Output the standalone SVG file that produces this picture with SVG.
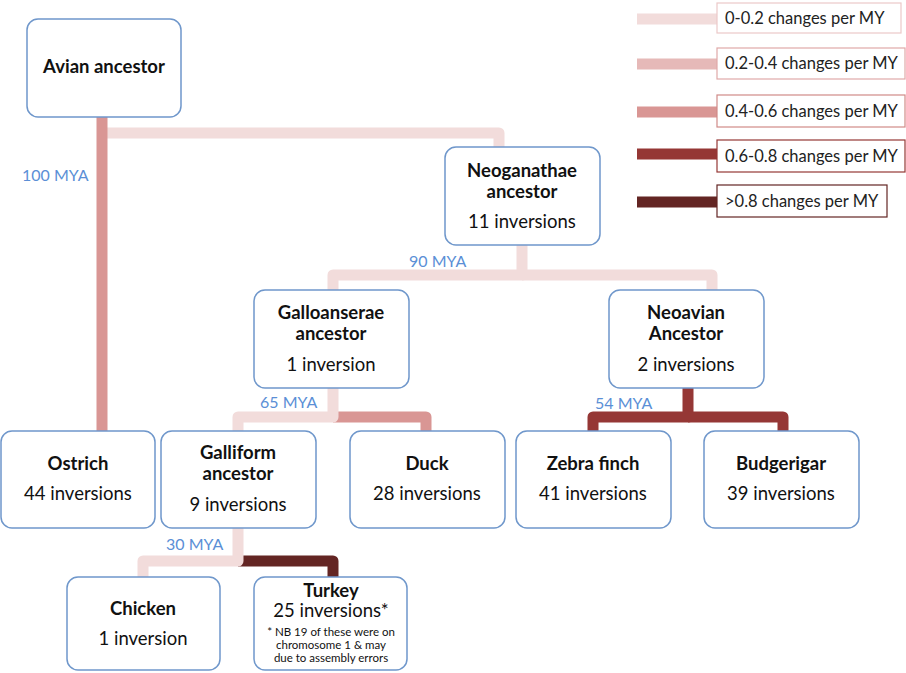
<svg xmlns="http://www.w3.org/2000/svg" width="906" height="673" viewBox="0 0 906 673">
<style>
.box{fill:#fff;stroke:#6f97cb;stroke-width:1.5}
.t{font-family:Lato,"Liberation Sans",sans-serif;font-size:18.5px;fill:#111;text-anchor:middle}
.b{font-weight:bold}
.s{font-size:11.5px}
.mya{font-family:Lato,"Liberation Sans",sans-serif;font-size:16px;fill:#5b8fd6}
.lg{font-family:Lato,"Liberation Sans",sans-serif;font-size:16.5px;fill:#222}
.c{fill:none;stroke-width:11;stroke-linejoin:round;stroke-linecap:butt}
.r1{stroke:#f2dcdb}.r2{stroke:#e6b9b8}.r3{stroke:#d99694}.r4{stroke:#953735}.r5{stroke:#632523}
</style>
<rect width="906" height="673" fill="#fff"/>
<g id="connectors">
<path class="c r1" d="M102,133 H499 V147"/>
<path class="c r3" d="M102,117 V431"/>
<path class="c r1" d="M522,245 V275 H333 V290"/>
<path class="c r1" d="M522,275 H712 V290"/>
<path class="c r3" d="M333,417 H426 V431"/>
<path class="c r1" d="M333,388 V417 H238 V431"/>
<path class="c r4" d="M688,388 V417 H593 V431"/>
<path class="c r4" d="M688,417 H783 V431"/>
<path class="c r5" d="M238,561 H333 V577"/>
<path class="c r1" d="M238,528 V561 H143 V577"/>
</g>
<g id="labels">
<text class="mya" x="22" y="181">100 MYA</text>
<text class="mya" x="409" y="267">90 MYA</text>
<text class="mya" x="260" y="408">65 MYA</text>
<text class="mya" x="595" y="409">54 MYA</text>
<text class="mya" x="166" y="550">30 MYA</text>
</g>
<g id="avian">
<rect class="box" x="27" y="19" width="154" height="98" rx="11"/>
<text class="t b" x="104" y="73">Avian ancestor</text>
</g>
<g id="neoganathae">
<rect class="box" x="445" y="147" width="155" height="98" rx="11"/>
<text class="t b" x="522" y="177">Neoganathae</text>
<text class="t b" x="522" y="198">ancestor</text>
<text class="t" x="522" y="228">11 inversions</text>
</g>
<g id="galloanserae">
<rect class="box" x="254" y="290" width="155" height="98" rx="11"/>
<text class="t b" x="331" y="319">Galloanserae</text>
<text class="t b" x="331" y="340">ancestor</text>
<text class="t" x="331" y="371">1 inversion</text>
</g>
<g id="neoavian">
<rect class="box" x="609" y="290" width="155" height="98" rx="11"/>
<text class="t b" x="686" y="319">Neoavian</text>
<text class="t b" x="686" y="340">Ancestor</text>
<text class="t" x="686" y="371">2 inversions</text>
</g>
<g id="ostrich">
<rect class="box" x="1" y="431" width="154" height="97" rx="11"/>
<text class="t b" x="78" y="470">Ostrich</text>
<text class="t" x="78" y="500">44 inversions</text>
</g>
<g id="galliform">
<rect class="box" x="161" y="431" width="155" height="97" rx="11"/>
<text class="t b" x="238" y="459">Galliform</text>
<text class="t b" x="238" y="480">ancestor</text>
<text class="t" x="238" y="511">9 inversions</text>
</g>
<g id="duck">
<rect class="box" x="350" y="431" width="155" height="97" rx="11"/>
<text class="t b" x="427" y="470">Duck</text>
<text class="t" x="427" y="500">28 inversions</text>
</g>
<g id="zebrafinch">
<rect class="box" x="516" y="431" width="155" height="97" rx="11"/>
<text class="t b" x="593" y="470">Zebra finch</text>
<text class="t" x="593" y="500">41 inversions</text>
</g>
<g id="budgerigar">
<rect class="box" x="704" y="431" width="155" height="97" rx="11"/>
<text class="t b" x="781" y="470">Budgerigar</text>
<text class="t" x="781" y="500">39 inversions</text>
</g>
<g id="chicken">
<rect class="box" x="67" y="577" width="153" height="93" rx="11"/>
<text class="t b" x="143" y="615">Chicken</text>
<text class="t" x="143" y="645">1 inversion</text>
</g>
<g id="turkey">
<rect class="box" x="254" y="577" width="153" height="93" rx="11"/>
<text class="t b" x="331" y="597">Turkey</text>
<text class="t" x="331" y="617">25 inversions*</text>
<text class="t s" x="331" y="636">* NB 19 of these were on</text>
<text class="t s" x="331" y="649">chromosome 1 &amp; may</text>
<text class="t s" x="331" y="662">due to assembly errors</text>
</g>
<g id="legend">
<line class="c r1" x1="637" y1="19" x2="717" y2="19" stroke-width="12"/>
<rect x="717" y="3" width="184" height="30" fill="#fff" stroke="#ebc9c8" stroke-width="1.2"/>
<text class="lg" x="725" y="24">0-0.2 changes per MY</text>
<line class="c r2" x1="637" y1="64" x2="717" y2="64" stroke-width="12"/>
<rect x="717" y="48" width="188" height="31" fill="#fff" stroke="#dfa9a8" stroke-width="1.2"/>
<text class="lg" x="725" y="69">0.2-0.4 changes per MY</text>
<line class="c r3" x1="637" y1="112" x2="717" y2="112" stroke-width="12"/>
<rect x="717" y="95" width="188" height="32" fill="#fff" stroke="#d08a88" stroke-width="1.2"/>
<text class="lg" x="725" y="117">0.4-0.6 changes per MY</text>
<line class="c r4" x1="637" y1="154" x2="717" y2="154" stroke-width="12"/>
<rect x="717" y="140" width="188" height="32" fill="#fff" stroke="#953735" stroke-width="1.2"/>
<text class="lg" x="725" y="162">0.6-0.8 changes per MY</text>
<line class="c r5" x1="637" y1="202" x2="717" y2="202" stroke-width="12"/>
<rect x="717" y="185" width="170" height="32" fill="#fff" stroke="#632523" stroke-width="1.2"/>
<text class="lg" x="725" y="207">&gt;0.8 changes per MY</text>
</g>
</svg>
